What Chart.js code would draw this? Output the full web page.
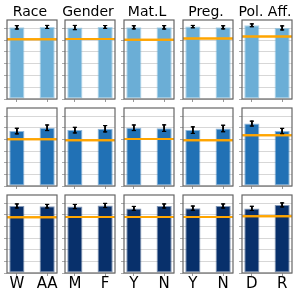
<!DOCTYPE html>
<html><head><meta charset="utf-8">
<script src="https://cdn.jsdelivr.net/npm/chart.js@4"></script>
<style>
html,body{margin:0;padding:0;background:#fff;width:297px;height:297px;overflow:hidden;}
.p{position:absolute;}
canvas{display:block;}
</style></head><body>
<script>
// ---- data ----
const groups = ['Race', 'Gender', 'Mat.L', 'Preg.', 'Pol. Aff.'];
const labels = [['W', 'AA'], ['M', 'F'], ['Y', 'N'], ['Y', 'N'], ['D', 'R']];
const yTicks = [0, 10, 20, 30, 40, 50, 60];

const row1Values = [[60.8, 61.1], [60.6, 61.1], [60.8, 60.8], [61.4, 60.8], [62.5, 60.3]];
const row1Errors = [[1.4, 1.3], [1.8, 1.2], [1.3, 1.4], [1.0, 1.3], [1.2, 1.7]];
const row1Base = [50.6, 50.8, 50.3, 51.4, 53.1];

const row2Values = [[47.2, 50.0], [48.0, 49.2], [50.0, 49.7], [48.0, 49.4], [53.6, 47.2]];
const row2Errors = [[2.4, 2.4], [2.4, 2.7], [2.4, 2.8], [2.8, 2.8], [2.1, 2.3]];
const row2Base = [40.1, 39.2, 40.4, 39.2, 43.5];

const row3Values = [[57.6, 57.4], [57.1, 58.0], [55.5, 57.6], [55.7, 57.6], [55.5, 58.5]];
const row3Errors = [[1.7, 1.5], [1.8, 1.8], [1.7, 1.7], [1.8, 1.7], [1.8, 1.7]];
const row3Base = [47.9, 48.2, 48.2, 48.2, 48.7];

const rowColors = ['#6baed6', '#2171b5', '#08306b'];
const rowEdges = ['rgba(107,174,214,0.55)', 'rgba(33,113,181,0.5)', 'rgba(8,48,107,0.5)'];

// ---- layout ----
const rowValues = [row1Values, row2Values, row3Values];
const rowErrors = [row1Errors, row2Errors, row3Errors];
const rowBase = [row1Base, row2Base, row3Base];
const YMAX = 67, XMIN = -0.325, XMAX = 1.325;
const colLeft = [7, 65, 124, 183, 242];
const rowTop = [20, 107, 194];
const PW = 50, PH = 79;
const FONT = 'DejaVu Sans';

const panelPlugin = {
  id: 'panel',
  afterDraw(chart) {
    const a = chart.chartArea, ctx = chart.ctx;
    ctx.save();
    ctx.beginPath();
    ctx.rect(a.left, a.top, a.right - a.left, a.bottom - a.top);
    ctx.clip();
    [2, 1, 0].forEach(i => chart.getDatasetMeta(i).controller.draw());
    ctx.restore();
    ctx.save();
    ctx.strokeStyle = '#666';
    ctx.lineWidth = 1.2;
    ctx.strokeRect(a.left, a.top, a.right - a.left, a.bottom - a.top);
    ctx.restore();
  }
};

function makePanel(r, c) {
  const isTop = r === 0, isBottom = r === 2;
  const padL = 1, padR = 3, padT = isTop ? 0 : 2;
  const yAxisW = 4, xAxisH = isBottom ? 24 : 4;
  const W = padL + yAxisW + PW + padR;
  const H = (isTop ? rowTop[0] : padT) + PH + xAxisH;
  const div = document.createElement('div');
  div.className = 'p';
  div.style.left = (colLeft[c] - padL - yAxisW) + 'px';
  div.style.top = (isTop ? 0 : rowTop[r] - padT) + 'px';
  div.style.width = W + 'px';
  div.style.height = H + 'px';
  const cv = document.createElement('canvas');
  cv.width = W; cv.height = H;
  cv.style.width = W + 'px'; cv.style.height = H + 'px';
  div.appendChild(cv);
  document.body.appendChild(div);

  const vals = rowValues[r][c], errs = rowErrors[r][c], base = rowBase[r][c];
  const idx = [0, 1];
  new Chart(cv, {
    type: 'bar',
    data: {
      datasets: [
        { type: 'bar', data: idx.map(i => ({ x: i, y: [vals[i] - errs[i], vals[i] + errs[i]] })),
          backgroundColor: '#000', barThickness: 1, grouped: false },
        { type: 'line', data: idx.flatMap(i => [{ x: i, y: vals[i] - errs[i] }, { x: i, y: vals[i] + errs[i] }]),
          showLine: false, pointStyle: 'line', pointRadius: 2, pointHoverRadius: 2,
          pointBorderColor: '#000', pointBorderWidth: 1 },
        { type: 'line', data: [{ x: XMIN, y: base }, { x: XMAX, y: base }],
          borderColor: '#ffa500', borderWidth: 2, pointRadius: 0, pointHoverRadius: 0 },
        { type: 'bar', data: idx.map(i => ({ x: i, y: vals[i] })),
          backgroundColor: rowColors[r], borderColor: rowEdges[r], borderWidth: 1, borderSkipped: false,
          barPercentage: 0.5, categoryPercentage: 1, grouped: false }
      ]
    },
    options: {
      responsive: false, animation: false, devicePixelRatio: 1,
      layout: { padding: { left: padL, right: padR, top: padT, bottom: 0 } },
      plugins: {
        legend: { display: false }, tooltip: { enabled: false },
        title: { display: isTop, text: groups[c], color: '#000',
          font: { family: FONT, size: 14, weight: 'normal' }, padding: { top: 4, bottom: -0.8 } }
      },
      scales: {
        x: { type: 'linear', min: XMIN, max: XMAX, offset: false,
          afterBuildTicks: s => { s.ticks = idx.map(v => ({ value: v })); },
          ticks: { display: isBottom, callback: v => labels[c][v], color: '#000',
            font: { family: FONT, size: 15 }, padding: -1, maxRotation: 0, autoSkip: false },
          grid: { display: true, offset: false, drawOnChartArea: false, drawTicks: true, tickLength: 3, tickColor: '#999' },
          border: { display: false },
          afterFit: s => { s.height = xAxisH; } },
        y: { min: 0, max: YMAX, z: 1,
          afterBuildTicks: s => { s.ticks = yTicks.map(v => ({ value: v })); },
          ticks: { display: false },
          grid: { color: 'rgba(176,176,176,0.5)', lineWidth: 1, drawTicks: true, tickLength: 3, tickColor: '#aaa' },
          border: { display: false },
          afterFit: s => { s.width = yAxisW; } }
      }
    },
    plugins: [panelPlugin]
  });
}

for (let r = 0; r < 3; r++) for (let c = 0; c < 5; c++) makePanel(r, c);
</script>
</body></html>
